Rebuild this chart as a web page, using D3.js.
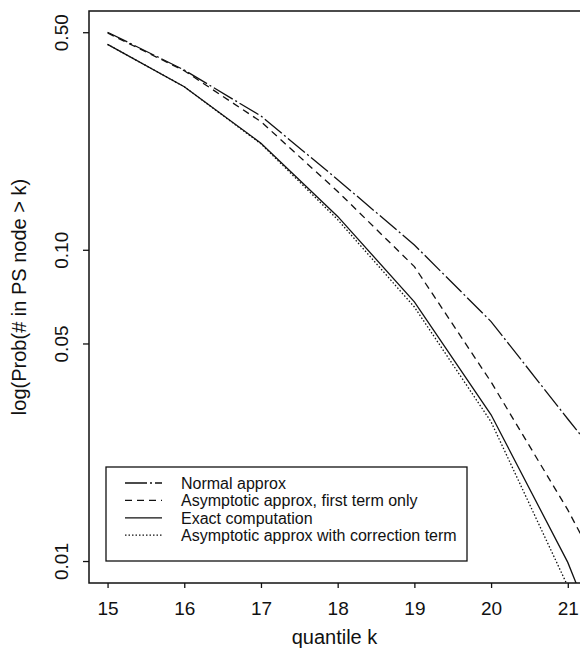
<!DOCTYPE html>
<html lang="en">
<head>
  <meta charset="UTF-8">
  <title>Quantile tail probabilities</title>
  <style>
    body { margin: 0; background: #fff; }
    svg { font-family: "Liberation Sans", Arial, sans-serif; }
    .curve { fill: none; stroke: #111; stroke-width: 1.3px; }
    .frame { fill: none; stroke: #111; stroke-width: 1.5px; }
  </style>
</head>
<body>
  <svg id="chart" width="580" height="662"></svg>

  <script src="https://d3js.org/d3.v7.min.js"></script>
  <script>
    // values, one per quantile k
    const quantiles = [15, 16, 17, 18, 19, 20, 21, 22];
    const normalApprox = [0.500, 0.378, 0.269, 0.168, 0.1036, 0.0588, 0.0286, 0.0141];
    const asympFirstTerm = [0.497, 0.376, 0.258, 0.154, 0.0883, 0.0376, 0.0146, 0.0050];
    const exactComputation = [0.457, 0.334, 0.220, 0.128, 0.0680, 0.0295, 0.0099, 0.0024];
    const asympCorrection = [0.457, 0.334, 0.219, 0.125, 0.0655, 0.0280, 0.0083, 0.0019];

    const xTicks = [15, 16, 17, 18, 19, 20, 21];
    const yTicks = [0.01, 0.05, 0.10, 0.50];

    const series = [
      { name: 'Normal approx', values: normalApprox, dash: '22,3,2,3' },
      { name: 'Asymptotic approx, first term only', values: asympFirstTerm, dash: '7,5' },
      { name: 'Exact computation', values: exactComputation, dash: null },
      { name: 'Asymptotic approx with correction term', values: asympCorrection, dash: '1.5,2' }
    ];

    // plot region (right edge runs past the window like the scan)
    const plotLeft = 89, plotTop = 11, plotBottom = 583, plotRight = 600;

    const svg = d3.select('#chart');

    const x = d3.scaleLinear().domain([14.758, 21.42]).range([plotLeft, plotRight]);
    const y = d3.scaleLog().domain([0.0085, 0.585]).range([plotBottom, plotTop]);

    svg.append('clipPath').attr('id', 'plot-clip')
      .append('rect')
      .attr('x', plotLeft).attr('y', plotTop)
      .attr('width', plotRight - plotLeft).attr('height', plotBottom - plotTop);

    // axes
    const xAxis = d3.axisBottom(x).tickValues(xTicks).tickSize(5).tickPadding(14)
      .tickFormat(d3.format('d'));
    const gx = svg.append('g')
      .attr('transform', `translate(0,${plotBottom})`)
      .call(xAxis);
    gx.select('.domain').remove();
    gx.selectAll('line').attr('stroke', '#111').attr('stroke-width', 1.3);
    gx.selectAll('text').attr('font-size', 19).attr('fill', '#111');

    const yAxis = d3.axisLeft(y).tickValues(yTicks).tickSize(6).tickFormat(d3.format('.2f'));
    const gy = svg.append('g')
      .attr('transform', `translate(${plotLeft},0)`)
      .call(yAxis);
    gy.select('.domain').remove();
    gy.selectAll('line').attr('stroke', '#111').attr('stroke-width', 1.3);
    gy.selectAll('text')
      .attr('font-size', 19)
      .attr('fill', '#111')
      .attr('x', null).attr('dy', null)
      .attr('text-anchor', 'middle')
      .attr('transform', 'translate(-21,0) rotate(-90)');

    // frame
    svg.append('rect').attr('class', 'frame')
      .attr('x', plotLeft).attr('y', plotTop)
      .attr('width', plotRight - plotLeft).attr('height', plotBottom - plotTop);

    // curves
    const line = d3.line()
      .x((d, i) => x(quantiles[i]))
      .y(d => y(d));

    svg.append('g').attr('clip-path', 'url(#plot-clip)')
      .selectAll('path')
      .data(series)
      .enter().append('path')
      .attr('class', 'curve')
      .attr('d', d => line(d.values))
      .attr('stroke-dasharray', d => d.dash);

    // axis titles
    svg.append('text')
      .attr('x', (plotLeft + plotRight) / 2 - 10)
      .attr('y', 644)
      .attr('text-anchor', 'middle')
      .attr('font-size', 20)
      .attr('fill', '#111')
      .text('quantile k');

    svg.append('text')
      .attr('transform', `translate(26,${(plotTop + plotBottom) / 2}) rotate(-90)`)
      .attr('text-anchor', 'middle')
      .attr('font-size', 20)
      .attr('fill', '#111')
      .text('log(Prob(# in PS node > k)');

    // legend
    const legend = svg.append('g');
    legend.append('rect')
      .attr('x', 106).attr('y', 467)
      .attr('width', 361).attr('height', 94)
      .attr('fill', '#fff').attr('stroke', '#111').attr('stroke-width', 1.3);

    const rows = legend.selectAll('g.row')
      .data(series)
      .enter().append('g')
      .attr('class', 'row')
      .attr('transform', (d, i) => `translate(0,${483 + i * 17.4})`);

    rows.append('line')
      .attr('class', 'curve')
      .attr('x1', 125).attr('x2', 162)
      .attr('y1', 0).attr('y2', 0)
      .attr('stroke-dasharray', d => d.dash);

    rows.append('text')
      .attr('x', 181).attr('y', 0).attr('dy', '0.36em')
      .attr('font-size', 16)
      .attr('fill', '#111')
      .text(d => d.name);
  </script>
</body>
</html>
